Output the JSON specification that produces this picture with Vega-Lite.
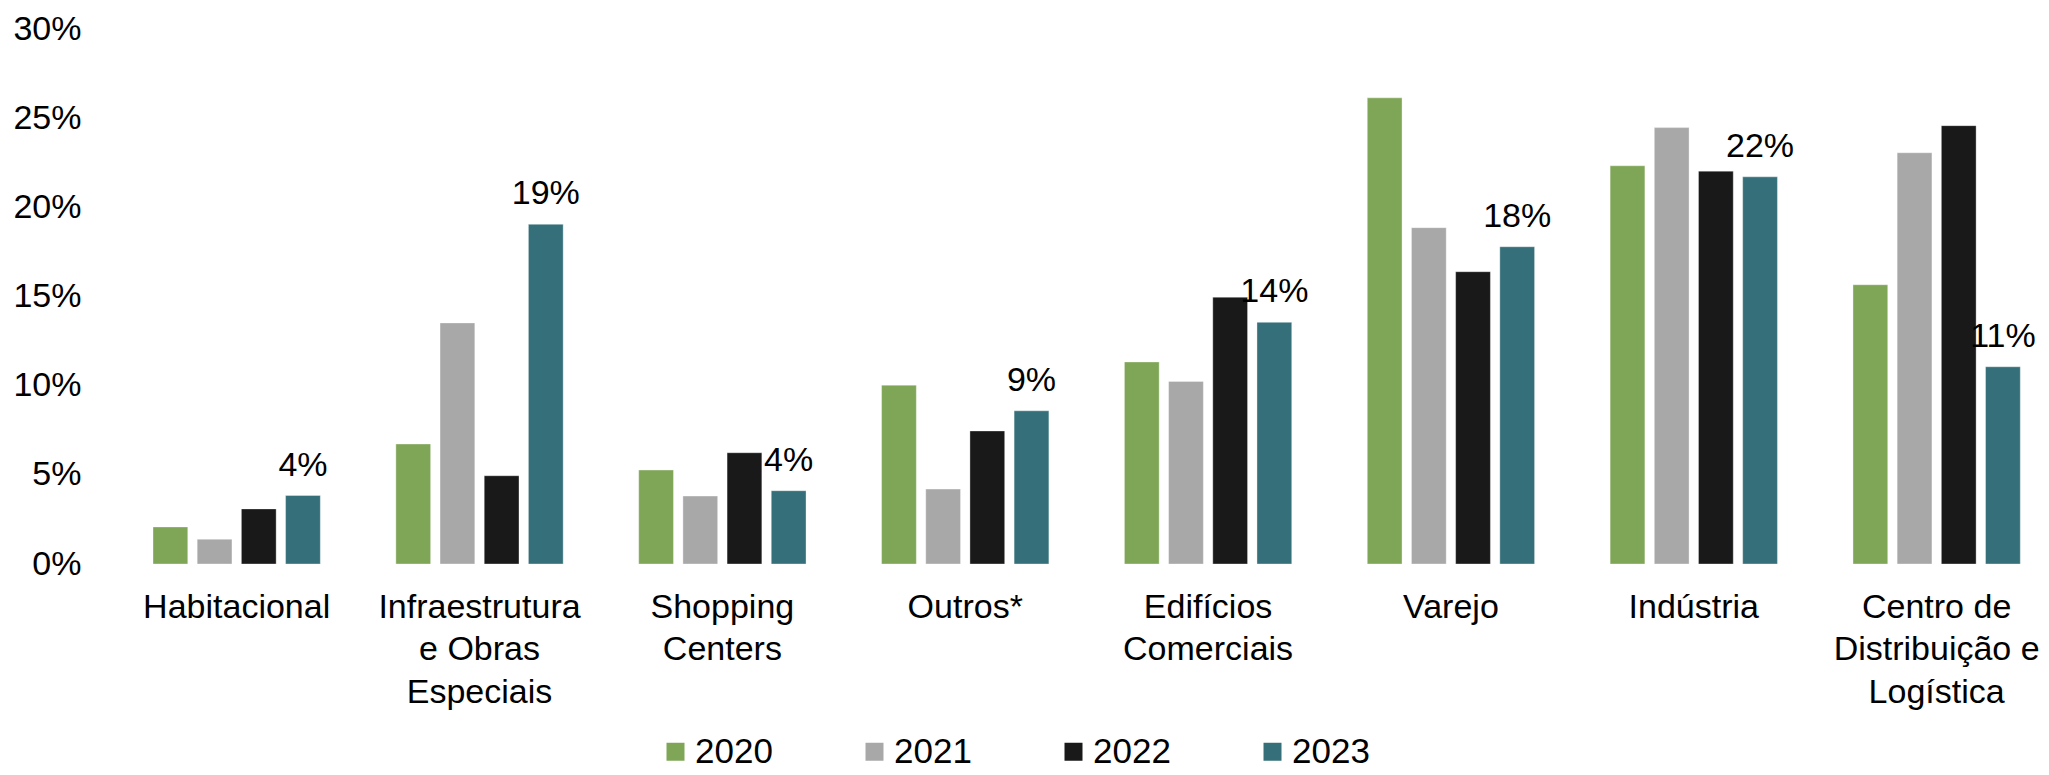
{
  "$schema": "https://vega.github.io/schema/vega-lite/v6.json",
  "autosize": {"type": "none"},
  "width": 1940,
  "height": 535,
  "padding": {"left": 100, "top": 29, "right": 9, "bottom": 211},
  "background": "#ffffff",
  "config": {
    "view": {"stroke": null},
    "font": "Liberation Sans",
    "axis": {"labelFont": "Liberation Sans", "labelColor": "#000000"},
    "legend": {"labelFont": "Liberation Sans"}
  },
  "data": {
    "values": [
      {"categoria": "Habitacional", "ano": "2020", "valor": 0.0208},
      {"categoria": "Habitacional", "ano": "2021", "valor": 0.0139},
      {"categoria": "Habitacional", "ano": "2022", "valor": 0.0309},
      {"categoria": "Habitacional", "ano": "2023", "valor": 0.0384},
      {"categoria": "Infraestrutura e Obras Especiais", "ano": "2020", "valor": 0.0673},
      {"categoria": "Infraestrutura e Obras Especiais", "ano": "2021", "valor": 0.1352},
      {"categoria": "Infraestrutura e Obras Especiais", "ano": "2022", "valor": 0.0495},
      {"categoria": "Infraestrutura e Obras Especiais", "ano": "2023", "valor": 0.1905},
      {"categoria": "Shopping Centers", "ano": "2020", "valor": 0.0527},
      {"categoria": "Shopping Centers", "ano": "2021", "valor": 0.0381},
      {"categoria": "Shopping Centers", "ano": "2022", "valor": 0.0624},
      {"categoria": "Shopping Centers", "ano": "2023", "valor": 0.0411},
      {"categoria": "Outros*", "ano": "2020", "valor": 0.1003},
      {"categoria": "Outros*", "ano": "2021", "valor": 0.042},
      {"categoria": "Outros*", "ano": "2022", "valor": 0.0746},
      {"categoria": "Outros*", "ano": "2023", "valor": 0.0859},
      {"categoria": "Edifícios Comerciais", "ano": "2020", "valor": 0.1133},
      {"categoria": "Edifícios Comerciais", "ano": "2021", "valor": 0.1024},
      {"categoria": "Edifícios Comerciais", "ano": "2022", "valor": 0.1496},
      {"categoria": "Edifícios Comerciais", "ano": "2023", "valor": 0.1355},
      {"categoria": "Varejo", "ano": "2020", "valor": 0.2614},
      {"categoria": "Varejo", "ano": "2021", "valor": 0.1886},
      {"categoria": "Varejo", "ano": "2022", "valor": 0.1639},
      {"categoria": "Varejo", "ano": "2023", "valor": 0.1779},
      {"categoria": "Indústria", "ano": "2020", "valor": 0.2233},
      {"categoria": "Indústria", "ano": "2021", "valor": 0.2447},
      {"categoria": "Indústria", "ano": "2022", "valor": 0.2203},
      {"categoria": "Indústria", "ano": "2023", "valor": 0.2171},
      {"categoria": "Centro de Distribuição e Logística", "ano": "2020", "valor": 0.1566},
      {"categoria": "Centro de Distribuição e Logística", "ano": "2021", "valor": 0.2306},
      {"categoria": "Centro de Distribuição e Logística", "ano": "2022", "valor": 0.2458},
      {"categoria": "Centro de Distribuição e Logística", "ano": "2023", "valor": 0.1106}
    ]
  },
  "encoding": {
    "x": {
      "field": "categoria",
      "type": "nominal",
      "sort": null,
      "scale": {"paddingInner": 0.311, "paddingOuter": 0.1497, "align": 0.729},
      "axis": {
        "title": null,
        "labelAngle": 0,
        "domain": false,
        "ticks": false,
        "labelFontSize": 34,
        "labelLineHeight": 42.5,
        "labelBaseline": "top",
        "labelPadding": 26,
        "labelLimit": 400,
        "labelExpr": "datum.value == 'Infraestrutura e Obras Especiais' ? ['Infraestrutura', 'e Obras', 'Especiais'] : datum.value == 'Shopping Centers' ? ['Shopping', 'Centers'] : datum.value == 'Edifícios Comerciais' ? ['Edifícios', 'Comerciais'] : datum.value == 'Centro de Distribuição e Logística' ? ['Centro de', 'Distribuição e', 'Logística'] : datum.value"
      }
    },
    "xOffset": {
      "field": "ano",
      "type": "nominal",
      "scale": {"domain": ["2020", "2021", "2022", "2023"], "paddingInner": 0.213, "paddingOuter": 0}
    },
    "y": {
      "field": "valor",
      "type": "quantitative",
      "stack": null,
      "scale": {"domain": [0, 0.3], "nice": false},
      "axis": {
        "title": null,
        "format": ".0%",
        "values": [0, 0.05, 0.1, 0.15, 0.2, 0.25, 0.3],
        "domain": false,
        "ticks": false,
        "grid": false,
        "labelFontSize": 34,
        "labelPadding": 19
      }
    }
  },
  "layer": [
    {
      "mark": {"type": "bar", "stroke": "#ffffff", "strokeWidth": 0.6, "strokeOpacity": 0.6},
      "encoding": {
        "color": {
          "field": "ano",
          "type": "nominal",
          "scale": {"domain": ["2020", "2021", "2022", "2023"], "range": ["#7FA657", "#A8A8A8", "#191919", "#35707A"]},
          "legend": {
            "title": null,
            "orient": "none",
            "direction": "horizontal",
            "legendX": 558,
            "legendY": 705,
            "padding": 0,
            "symbolType": "square",
            "symbolSize": 324,
            "symbolStrokeWidth": 0,
            "labelFontSize": 35,
            "labelColor": "#000000",
            "labelOffset": 2,
            "columnPadding": 84
          }
        }
      }
    },
    {
      "transform": [{"filter": "datum.ano == '2023'"}],
      "mark": {"type": "text", "align": "center", "baseline": "alphabetic", "dy": -20, "fontSize": 34, "color": "#000000"},
      "encoding": {
        "text": {"field": "valor", "type": "quantitative", "format": ".0%"}
      }
    }
  ]
}
